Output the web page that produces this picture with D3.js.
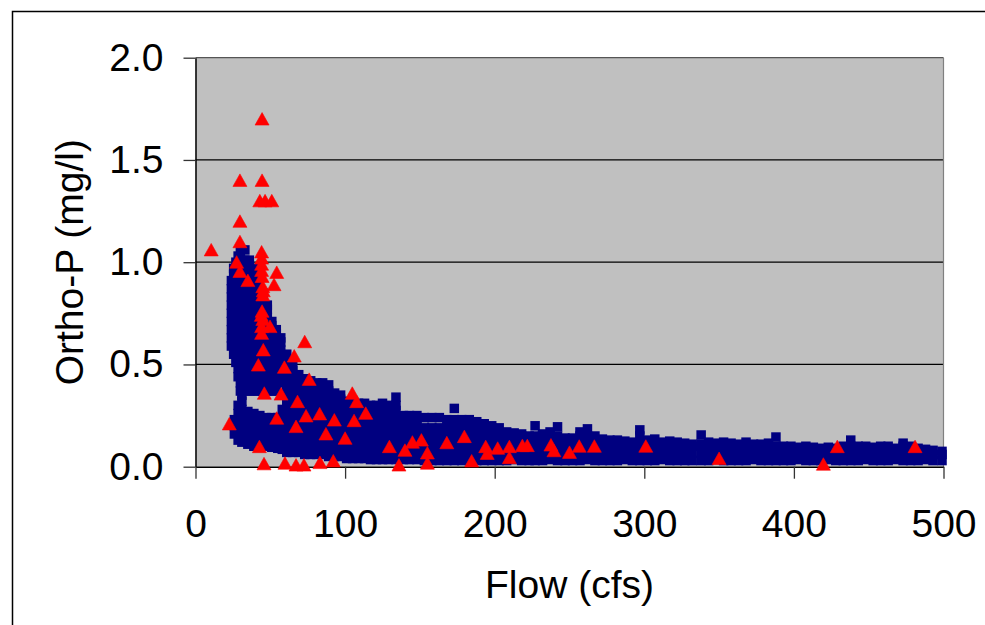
<!DOCTYPE html>
<html>
<head>
<meta charset="utf-8">
<script src="https://cdn.jsdelivr.net/npm/d3@7"></script>
<style>
body { margin: 0; background: #fff; }
svg { display: block; font-family: "Liberation Sans", Arial, sans-serif; }
</style>
</head>
<body>
<svg id="chart" width="985" height="625"></svg>
<script>
// tick values
var flowTicks = [0, 100, 200, 300, 400, 500];
var orthoTicks = [0, 0.5, 1.0, 1.5, 2.0];

// blue squares, grouped by flow (cfs): [flow, [ortho-P values]]
// steep upper branch
var blueUpper = [
	[24, [.59, .63, .67, .71, .75, .79, .83, .87, .91]],
	[25.5, [.55, .94, .97]],
	[27, [.51, .55, .59, .63, .67, .71, .75, .79, .83, .87, .91, .95, 1.00]],
	[28.5, [.44, .48, 1.03]],
	[30, [.37, .41, .45, .49, .53, .57, .61, .65, .69, .73, .77, .81, .85, .89, .93, .97, 1.01, 1.05]],
	[33, [.37, .41, .45, .49, .53, .57, .61, .65, .69, .73, .77, .81, .85, .89, .93, .97, 1.01, 1.06]],
	[36, [.37, .41, .45, .49, .53, .57, .61, .65, .69, .73, .77, .81, .85, .89, .93, .97, 1.01]],
	[39, [.37, .41, .45, .49, .53, .57, .61, .65, .69, .73, .77, .81, .85, .89, .93, .97]],
	[42, [.37, .41, .45, .49, .53, .57, .61, .65, .69, .73, .77, .81, .85, .89, .92]],
	[45, [.37, .41, .45, .49, .53, .57, .61, .65, .69, .73, .77, .81, .85]],
	[48, [.37, .41, .45, .49, .53, .57, .61, .65, .69, .73, .77, .79]],
	[51, [.37, .41, .45, .49, .53, .57, .61, .65, .69, .71]],
	[54, [.37, .41, .45, .49, .53, .57, .61, .65, .67]],
	[57, [.41, .45, .49, .53, .57, .61, .63]]
];
// lower branch under the gap
var blueLower = [
	[26, [.16, .20, .23]],
	[28.5, [.13, .26, .30]],
	[31, [.12, .16, .20, .24, .28, .32, .35]],
	[35, [.11, .15, .19, .23, .27]],
	[39, [.10, .14, .18, .22, .26]],
	[43, [.10, .13, .17, .21, .25]],
	[47, [.10, .13, .17, .21, .24]],
	[51, [.095, .13, .17, .21, .24]],
	[55, [.09, .12, .16, .20, .24]],
	[58, [.085, .12, .16, .20, .24, .28]]
];
// the bend, 60-200 cfs
var blueMid = [
	[61, [.07, .11, .15, .19, .23, .27, .31, .35, .39, .43, .47, .51, .55]],
	[65, [.07, .11, .15, .19, .23, .27, .31, .35, .39, .43, .47, .49]],
	[69, [.07, .11, .15, .19, .23, .27, .31, .35, .39, .43, .45]],
	[73, [.06, .10, .14, .18, .22, .26, .30, .34, .38, .42, .43]],
	[77, [.06, .10, .14, .18, .22, .26, .30, .34, .38, .42]],
	[81, [.06, .10, .14, .18, .22, .26, .30, .34, .38, .41]],
	[85, [.06, .10, .14, .18, .22, .26, .30, .34, .38, .41]],
	[89, [.05, .09, .13, .17, .21, .25, .29, .33, .37, .40]],
	[93, [.05, .09, .13, .17, .21, .25, .29, .33, .36]],
	[97, [.05, .09, .13, .17, .21, .25, .29, .33, .35]],
	[101, [.04, .08, .12, .16, .20, .24, .28, .32]],
	[105, [.04, .08, .12, .16, .20, .24, .28, .32]],
	[109, [.04, .08, .12, .16, .20, .24, .28, .31]],
	[113, [.04, .08, .12, .16, .20, .24, .28, .31]],
	[117, [.035, .075, .115, .155, .195, .235, .275, .30]],
	[121, [.035, .075, .115, .155, .195, .235, .275, .30]],
	[125, [.035, .075, .115, .155, .195, .235, .275, .31]],
	[129, [.035, .075, .115, .155, .195, .235, .275, .30]],
	[134, [.035, .075, .115, .155, .195, .235, .275, .30, .34]],
	[139, [.035, .075, .115, .155, .195, .235, .25]],
	[143, [.035, .075, .115, .155, .195, .235, .25]],
	[148, [.035, .075, .115, .155, .195, .235, .25]],
	[153, [.03, .07, .11, .15, .19, .24]],
	[158, [.03, .07, .11, .15, .19, .24]],
	[163, [.03, .07, .11, .15, .19, .24]],
	[168, [.03, .07, .11, .15, .19, .23]],
	[173, [.03, .07, .11, .15, .19, .23, .285]],
	[178, [.03, .07, .11, .15, .19, .23]],
	[183, [.03, .07, .11, .15, .19, .23]],
	[188, [.03, .07, .11, .15, .19, .22]],
	[193, [.03, .07, .11, .15, .19, .21]],
	[198, [.03, .07, .11, .15, .19, .20]]
];
// flat tail, 200-500 cfs
var blueTail = [
	[203, [.03, .07, .11, .15, .19]],
	[208, [.03, .07, .11, .15, .17]],
	[213, [.035, .07, .11, .15, .165]],
	[218, [.03, .07, .11, .15, .16]],
	[223, [.03, .07, .11, .15]],
	[227, [.03, .07, .11, .15, .20]],
	[232, [.03, .07, .11, .15, .16]],
	[237, [.035, .07, .11, .15, .17]],
	[242, [.03, .07, .11, .15, .195]],
	[247, [.03, .07, .11, .14]],
	[252, [.03, .07, .11, .14]],
	[257, [.03, .07, .11, .15, .17]],
	[262, [.035, .07, .11, .15, .185]],
	[267, [.03, .07, .11, .15]],
	[272, [.03, .07, .11, .135]],
	[277, [.03, .07, .11, .13]],
	[282, [.03, .07, .11, .13]],
	[287, [.035, .07, .11, .125]],
	[292, [.03, .07, .11, .12]],
	[297, [.03, .07, .11, .15, .18]],
	[302, [.03, .07, .11, .13]],
	[307, [.03, .07, .11, .135]],
	[312, [.035, .07, .105, .12]],
	[317, [.03, .07, .10, .125]],
	[322, [.03, .07, .10, .12]],
	[327, [.03, .065, .10, .115]],
	[332, [.03, .065, .10, .11]],
	[338, [.03, .07, .11, .155]],
	[343, [.03, .07, .10, .12]],
	[348, [.035, .07, .10, .115]],
	[353, [.03, .065, .10, .12]],
	[358, [.03, .065, .10, .115]],
	[363, [.03, .065, .10, .11]],
	[368, [.03, .065, .10, .12]],
	[373, [.035, .065, .10, .11]],
	[378, [.03, .065, .10, .11]],
	[383, [.03, .065, .10, .115]],
	[388, [.03, .065, .10, .145]],
	[393, [.03, .065, .10]],
	[398, [.03, .065, .10]],
	[403, [.035, .065, .095]],
	[408, [.03, .065, .10]],
	[413, [.03, .065, .095]],
	[418, [.03, .06, .09]],
	[423, [.035, .065, .095]],
	[428, [.03, .06, .09]],
	[433, [.03, .065, .10]],
	[438, [.03, .07, .10, .13]],
	[443, [.03, .065, .10]],
	[448, [.035, .065, .10]],
	[453, [.03, .065, .095]],
	[458, [.03, .065, .10]],
	[463, [.03, .06, .10]],
	[468, [.035, .065, .09]],
	[473, [.03, .07, .10, .115]],
	[478, [.03, .065, .10]],
	[483, [.03, .065, .09]],
	[488, [.035, .06, .085]],
	[493, [.03, .06, .08]],
	[499, [.03, .06, .075]]
];

// red triangles: [flow, ortho-P]
var redPoints = [
	[10.5, 1.06], [44.5, 1.70], [29.7, 1.40], [44.5, 1.40], [43, 1.30], [46.5, 1.30], [51, 1.30],
	[29.7, 1.20], [29.7, 1.10], [44.2, 1.05], [44.2, 1.02], [27.5, 1.0], [44.2, 0.99], [29.7, 0.955],
	[44.2, 0.96], [54.3, 0.95], [44.5, 0.93], [35, 0.91], [52.5, 0.89], [45, 0.88], [45.3, 0.86],
	[45, 0.84], [44.5, 0.76], [44, 0.74], [45, 0.72], [49.8, 0.685], [44.2, 0.685], [44.2, 0.652],
	[73, 0.611], [45.3, 0.571], [66, 0.541], [42, 0.497], [59.4, 0.486], [76, 0.427], [46, 0.359],
	[57.2, 0.355], [104.8, 0.359], [107.7, 0.318], [68.2, 0.318], [113.8, 0.261], [54.3, 0.237],
	[73.9, 0.248], [83, 0.258], [92.8, 0.228], [106, 0.225], [22.6, 0.209], [67.2, 0.196],
	[87.2, 0.16], [100, 0.139], [42.7, 0.098], [129.6, 0.098], [140, 0.08], [145, 0.12], [151, 0.13],
	[155, 0.067], [168, 0.117], [179.7, 0.147], [45.8, 0.014], [59.8, 0.017], [67.2, 0.008],
	[72.5, 0.008], [83.2, 0.02], [92.1, 0.028], [136, 0.008], [155, 0.017], [184.6, 0.028],
	[194, 0.098], [195, 0.065], [202, 0.09], [209.8, 0.098], [209.8, 0.044], [218.5, 0.103],
	[221.8, 0.103], [237.6, 0.106], [239.6, 0.078], [250, 0.07], [256.5, 0.10], [266.6, 0.10],
	[301, 0.10], [350, 0.04], [419.7, 0.012], [429, 0.098], [481, 0.098]
];

var svg = d3.select("#chart");
var FONT = 39;

var x = d3.scaleLinear().domain([0, 500]).range([195.5, 943.5]);
var y = d3.scaleLinear().domain([0, 2]).range([466.7, 57.7]);

// outer chart frame (runs off the right and bottom edges)
svg.append("path")
	.attr("d", "M12.5,640 V11.5 H1000")
	.attr("fill", "none")
	.attr("stroke", "#000")
	.attr("stroke-width", 1.5);

// gray plot area
svg.append("rect")
	.attr("x", x(0))
	.attr("y", y(2))
	.attr("width", x(500) - x(0))
	.attr("height", y(0) - y(2))
	.attr("fill", "#C0C0C0");

// horizontal gridlines
svg.selectAll("line.grid")
	.data(orthoTicks.filter(function(d) { return d > 0; }))
	.enter().append("line")
	.attr("class", "grid")
	.attr("x1", x(0))
	.attr("x2", x(500))
	.attr("y1", function(d) { return y(d); })
	.attr("y2", function(d) { return y(d); })
	.attr("stroke", function(d) { return d == 2 ? "#555" : "#000"; })
	.attr("stroke-width", 1.2);

// right border of the plot area
svg.append("line")
	.attr("x1", x(500)).attr("x2", x(500))
	.attr("y1", y(2)).attr("y2", y(0))
	.attr("stroke", "#808080")
	.attr("stroke-width", 1.2);

// axes
var yAxis = d3.axisLeft(y)
	.tickValues(orthoTicks)
	.tickFormat(d3.format(".1f"))
	.tickSize(12)
	.tickSizeOuter(0)
	.tickPadding(20);

var xAxis = d3.axisBottom(x)
	.tickValues(flowTicks)
	.tickFormat(d3.format("d"))
	.tickSize(12)
	.tickSizeOuter(0)
	.tickPadding(31);

var gy = svg.append("g")
	.attr("transform", "translate(" + x(0) + ",0)")
	.call(yAxis);

var gx = svg.append("g")
	.attr("transform", "translate(0," + y(0) + ")")
	.call(xAxis);

[gx, gy].forEach(function(g) {
	g.select(".domain").attr("stroke", "#000").attr("stroke-width", 1.5);
	g.selectAll(".tick line").attr("stroke", "#333").attr("stroke-width", 1.3);
	g.selectAll(".tick text")
		.attr("fill", "#000")
		.style("font-size", FONT + "px")
		.style("font-family", "'Liberation Sans', Arial, sans-serif");
});

// axis titles
svg.append("text")
	.attr("x", (x(0) + x(500)) / 2)
	.attr("y", 598)
	.attr("text-anchor", "middle")
	.style("font-size", FONT + "px")
	.text("Flow (cfs)");

svg.append("text")
	.attr("transform", "translate(83," + ((y(0) + y(2)) / 2) + ") rotate(-90)")
	.attr("text-anchor", "middle")
	.style("font-size", FONT + "px")
	.text("Ortho-P (mg/l)");

// blue squares
var bluePoints = [].concat(blueUpper, blueLower, blueMid, blueTail)
	.flatMap(function(c) { return c[1].map(function(v) { return [c[0], v]; }); });

var SQ = 9.5;
svg.append("g").selectAll("rect")
	.data(bluePoints)
	.enter().append("rect")
	.attr("x", function(d) { return x(d[0]) - SQ / 2; })
	.attr("y", function(d) { return y(d[1]) - SQ / 2; })
	.attr("width", SQ)
	.attr("height", SQ)
	.attr("fill", "#000080");

// red triangles on top
svg.append("g").selectAll("path")
	.data(redPoints)
	.enter().append("path")
	.attr("transform", function(d) { return "translate(" + x(d[0]) + "," + y(d[1]) + ")"; })
	.attr("d", "M0,-6.5 L7,6 L-7,6 Z")
	.attr("fill", "#FF0000")
	.attr("stroke", "#FF0000")
	.attr("stroke-width", 0.6)
	.attr("stroke-linejoin", "round");
</script>
</body>
</html>
